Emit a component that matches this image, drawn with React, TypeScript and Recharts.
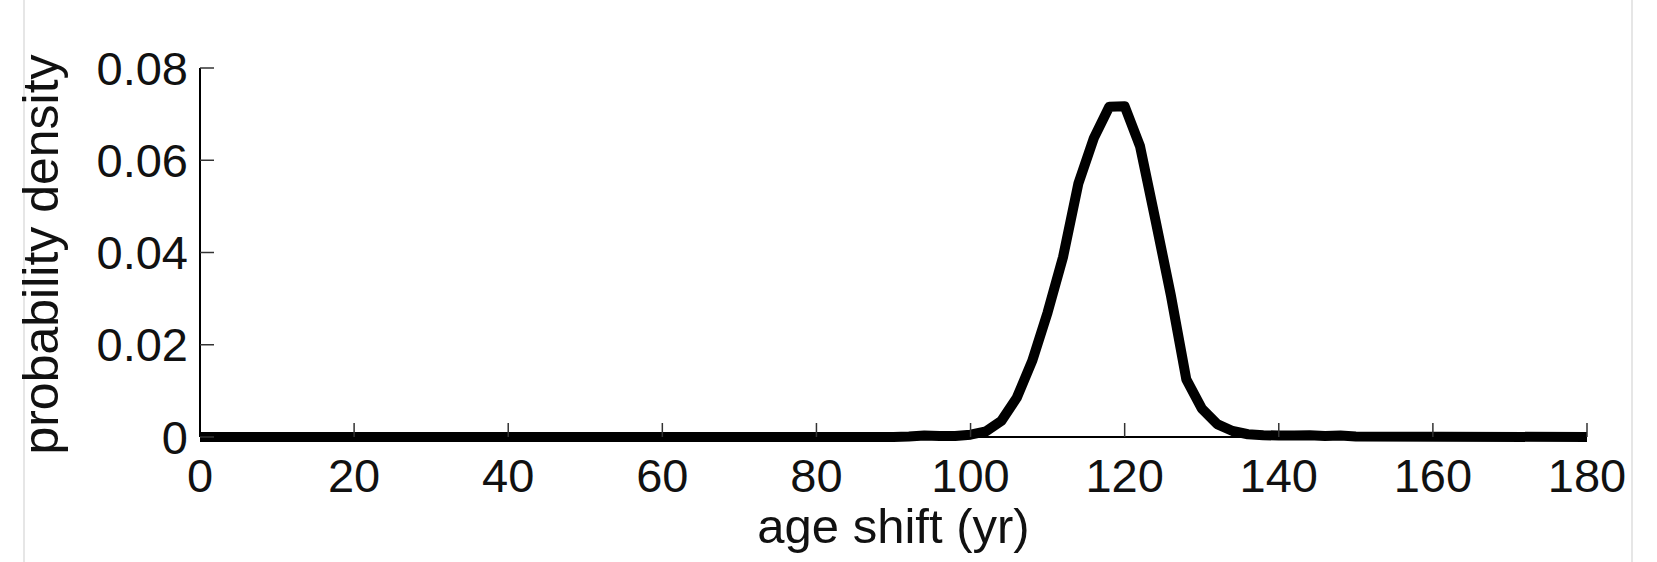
import { LineChart, Line, XAxis, YAxis } from 'recharts';

// age shift (yr) sample points and the density
const ageShift = [
  0, 90, 92, 94, 96, 98, 100, 102, 104, 106, 108, 110, 112, 114, 116, 118, 120,
  122, 124, 126, 128, 130, 132, 134, 136, 138, 140, 142, 144, 146, 148, 150, 180,
];
const density = [
  0, 0, 0.0001, 0.0003, 0.0002, 0.0002, 0.0005, 0.0012, 0.0035, 0.0085, 0.0165,
  0.027, 0.039, 0.055, 0.0648, 0.0716, 0.0717, 0.063, 0.047, 0.0307, 0.0125,
  0.0062, 0.0028, 0.0013, 0.0006, 0.0004, 0.0003, 0.0003, 0.0004, 0.0002,
  0.0003, 0.0001, 0,
];

const xTicks = [0, 20, 40, 60, 80, 100, 120, 140, 160, 180];
const yTicks = [0, 0.02, 0.04, 0.06, 0.08];

const data = ageShift.map((x, i) => ({ x, y: density[i] }));

const FONT = "'Liberation Sans', Arial, Helvetica, sans-serif";
const INK = '#111';

function YTitle(props: any) {
  const vb = props.viewBox || { x: 0, y: 68, width: 200, height: 369 };
  const cx = vb.x + 58;
  const cy = vb.y + vb.height / 2 + 2;
  return (
    <text
      x={cx}
      y={cy}
      transform={`rotate(-90 ${cx} ${cy})`}
      textAnchor="middle"
      fontSize={50}
      fontFamily={FONT}
      fill={INK}
    >
      probability density
    </text>
  );
}

function XTitle(props: any) {
  const vb = props.viewBox || { x: 200, y: 437, width: 1387, height: 125 };
  return (
    <text
      x={vb.x + vb.width / 2}
      y={vb.y + 106}
      textAnchor="middle"
      fontSize={49}
      fontFamily={FONT}
      fill={INK}
    >
      age shift (yr)
    </text>
  );
}

export default function App() {
  return (
    <div
      style={{
        position: 'absolute',
        left: 0,
        top: 0,
        width: 1657,
        height: 562,
        background: '#fff',
      }}
    >
      <div
        style={{
          position: 'absolute',
          left: 23,
          top: 0,
          width: 1610,
          height: 562,
          borderLeft: '2px solid #e6e6e6',
          borderRight: '2px solid #e6e6e6',
          boxSizing: 'border-box',
        }}
      />
      <LineChart
        width={1657}
        height={562}
        data={data}
        margin={{ top: 68, right: 70, left: 0, bottom: 0 }}
        style={{ position: 'absolute', left: 0, top: 0 }}
      >
        <XAxis
          dataKey="x"
          type="number"
          domain={[0, 180]}
          ticks={xTicks}
          interval={0}
          height={125}
          tickSize={-14}
          tickMargin={36}
          axisLine={{ stroke: '#000', strokeWidth: 2 }}
          tickLine={{ stroke: '#333', strokeWidth: 1.5 }}
          tick={{ fontSize: 47, fontFamily: FONT, fill: INK }}
          label={<XTitle />}
        />
        <YAxis
          type="number"
          domain={[0, 0.08]}
          ticks={yTicks}
          interval={0}
          width={200}
          tickSize={-14}
          tickMargin={26}
          axisLine={{ stroke: '#000', strokeWidth: 2 }}
          tickLine={{ stroke: '#333', strokeWidth: 1.5 }}
          tick={{ fontSize: 47, fontFamily: FONT, fill: INK }}
          label={<YTitle />}
        />
        <Line
          type="linear"
          dataKey="y"
          stroke="#000"
          strokeWidth={10}
          strokeLinejoin="round"
          strokeLinecap="butt"
          dot={false}
          activeDot={false}
          isAnimationActive={false}
        />
      </LineChart>
    </div>
  );
}
